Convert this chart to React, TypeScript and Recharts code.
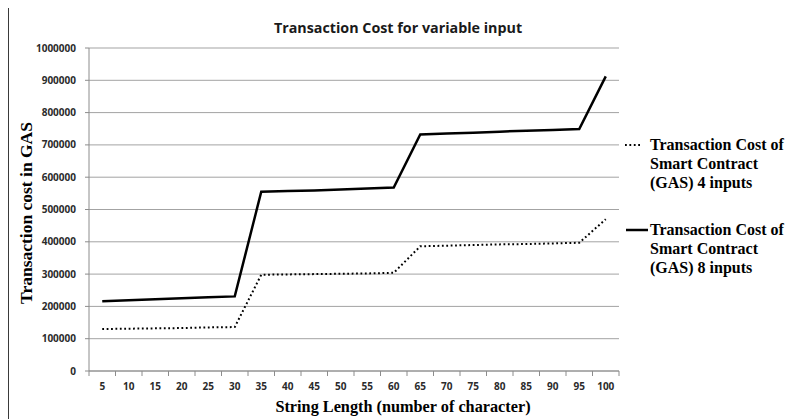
import React from 'react';
import { LineChart, Line, XAxis, YAxis, CartesianGrid, Legend } from 'recharts';

// String length categories (number of characters)
const stringLengths = [5, 10, 15, 20, 25, 30, 35, 40, 45, 50, 55, 60, 65, 70, 75, 80, 85, 90, 95, 100];

// Transaction cost (GAS) with 4 inputs
const cost4Inputs = [
  130000, 131000, 132000, 133000, 135000, 136000,
  298000, 299000, 300000, 301000, 302000, 304000,
  386000, 388000, 390000, 392000, 393000, 395000, 397000, 470000,
];

// Transaction cost (GAS) with 8 inputs
const cost8Inputs = [
  216000, 219000, 222000, 225000, 228000, 231000,
  555000, 557000, 559000, 562000, 565000, 568000,
  732000, 735000, 738000, 741000, 744000, 746000, 749000, 912000,
];

const yTicks = [0, 100000, 200000, 300000, 400000, 500000, 600000, 700000, 800000, 900000, 1000000];

const seriesNames = [
  'Transaction Cost of Smart Contract (GAS) 4 inputs',
  'Transaction Cost of Smart Contract (GAS) 8 inputs',
];

const data = stringLengths.map((len, i) => ({
  len: String(len),
  four: cost4Inputs[i],
  eight: cost8Inputs[i],
}));

const W = 793;
const H = 419;
const PLOT_LEFT = 89;
const PLOT_RIGHT = 619;
const BAND = (PLOT_RIGHT - PLOT_LEFT) / stringLengths.length;

const tickFont = '"Open Sans", Lato, sans-serif';
const serif = '"Liberation Serif", "DejaVu Serif", serif';
const axisGray = '#8c8c8c';
const tickColor = '#2b2b2b';

// x tick: label centred in its band, tick marks on band boundaries
const XTick = (props: any) => {
  const { x, y, payload, index } = props;
  const axisY = y - 12;
  const last = index === stringLengths.length - 1;
  return (
    <g>
      <line x1={x - BAND / 2} x2={x - BAND / 2} y1={axisY} y2={axisY + 5} stroke={axisGray} />
      {last && <line x1={x + BAND / 2} x2={x + BAND / 2} y1={axisY} y2={axisY + 5} stroke={axisGray} />}
      <text x={x} y={y} dy="0.71em" textAnchor="middle" fontFamily={tickFont} fontWeight={700} fontSize={10} fill={tickColor}>
        {payload.value}
      </text>
    </g>
  );
};

const LegendContent = () => {
  const items = [
    { name: seriesNames[0], dash: '1.8 2.6', x1: 5, x2: 21 },
    { name: seriesNames[1], dash: undefined, x1: 6, x2: 28 },
  ];
  return (
    <div>
      {items.map((it, i) => (
        <div key={i} style={{ display: 'flex', alignItems: 'flex-start', marginBottom: i === 0 ? 28 : 0 }}>
          <svg width={30} height={19} style={{ flex: 'none' }}>
            <line x1={it.x1} x2={it.x2} y1={10} y2={10} stroke="#000" strokeWidth={it.dash ? 2 : 2.5} strokeDasharray={it.dash} />
          </svg>
          <div
            style={{
              width: 142,
              fontFamily: serif,
              fontWeight: 700,
              fontSize: 16,
              lineHeight: '19px',
              color: '#000',
            }}
          >
            {it.name}
          </div>
        </div>
      ))}
    </div>
  );
};

export default function App() {
  return (
    <div style={{ position: 'relative', width: W, height: H, margin: '-8px 0 0 -8px', overflow: 'hidden', background: '#fff' }}>
      <div
        style={{
          position: 'absolute',
          left: 7,
          top: 5,
          width: W,
          height: H,
          borderTop: '2px solid #3a3a3a',
          borderLeft: '2px solid #3a3a3a',
        }}
      />
      <LineChart
        width={W}
        height={H}
        data={data}
        margin={{ top: 48, right: W - PLOT_RIGHT, bottom: 18, left: 0 }}
      >
        <CartesianGrid vertical={false} stroke="#a3a3a3" />
        <XAxis
          dataKey="len"
          scale="band"
          interval={0}
          height={30}
          tickLine={false}
          tickSize={5}
          tickMargin={7}
          axisLine={{ stroke: axisGray }}
          tick={<XTick />}
        />
        <YAxis
          width={PLOT_LEFT}
          domain={[0, 1000000]}
          ticks={yTicks}
          interval={0}
          tickSize={4}
          tickMargin={9}
          axisLine={{ stroke: axisGray }}
          tickLine={{ stroke: axisGray }}
          tick={{ fontFamily: tickFont, fontWeight: 700, fontSize: 10, fill: tickColor }}
        />
        <Line
          type="linear"
          dataKey="four"
          name={seriesNames[0]}
          stroke="#000"
          strokeWidth={2}
          strokeDasharray="1.8 2.6"
          dot={false}
          isAnimationActive={false}
        />
        <Line
          type="linear"
          dataKey="eight"
          name={seriesNames[1]}
          stroke="#000"
          strokeWidth={2.5}
          dot={false}
          isAnimationActive={false}
        />
        <Legend
          layout="horizontal"
          verticalAlign="middle"
          align="center"
          content={<LegendContent />}
          wrapperStyle={{ left: 620, top: 135, width: 173 }}
        />
      </LineChart>
      <div
        style={{
          position: 'absolute',
          left: 398,
          top: 27,
          transform: 'translate(-50%, -50%)',
          whiteSpace: 'nowrap',
          fontFamily: tickFont,
          fontWeight: 700,
          fontSize: 14.3,
          color: '#1a1a1a',
        }}
      >
        Transaction Cost for variable input
      </div>
      <div
        style={{
          position: 'absolute',
          left: 26,
          top: 213,
          transform: 'translate(-50%, -50%) rotate(-90deg)',
          whiteSpace: 'nowrap',
          fontFamily: serif,
          fontWeight: 700,
          fontSize: 17.5,
          color: '#000',
        }}
      >
        Transaction cost in GAS
      </div>
      <div
        style={{
          position: 'absolute',
          left: 403,
          top: 407,
          transform: 'translate(-50%, -50%)',
          whiteSpace: 'nowrap',
          fontFamily: serif,
          fontWeight: 700,
          fontSize: 16.25,
          color: '#000',
        }}
      >
        String Length (number of character)
      </div>
    </div>
  );
}
